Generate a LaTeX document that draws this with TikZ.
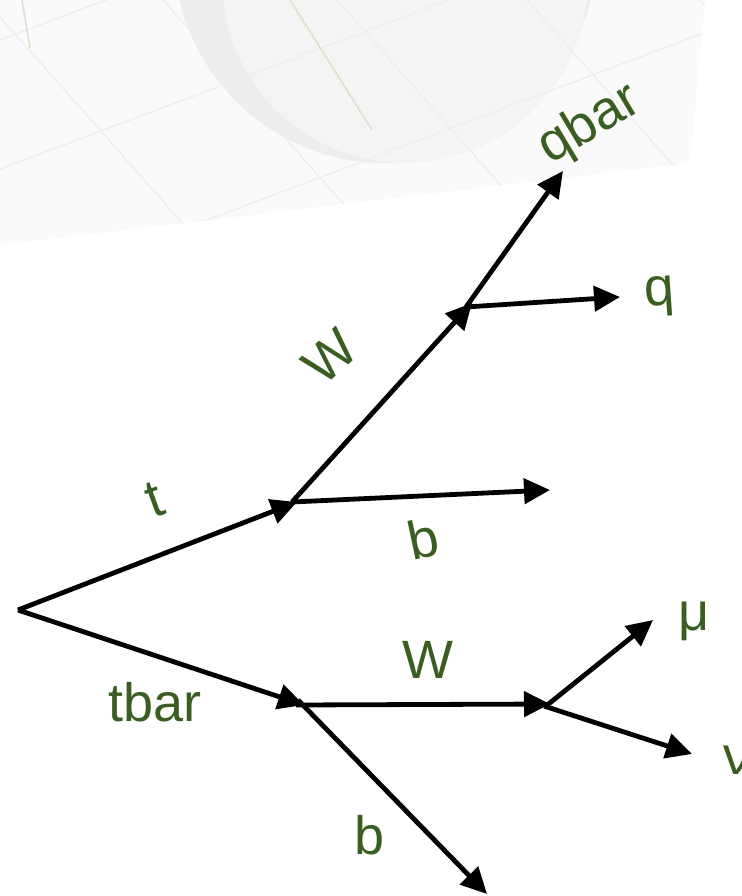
\documentclass[tikz,border=0pt]{standalone}
\usepackage{fontspec}
\setmainfont{Liberation Sans}
\usetikzlibrary{arrows.meta}
\definecolor{lblgreen}{HTML}{3A5E22}
\definecolor{bggrid}{HTML}{EDEDED}
\definecolor{bgshade}{HTML}{EDEDED}
\definecolor{bginner}{HTML}{F4F4F4}
\definecolor{bggreen}{HTML}{D2E5CA}
\begin{document}
\begin{tikzpicture}[x=1pt,y=-1pt,
  decay/.style={line width=4.8pt,-{Triangle[length=26pt,width=25pt]}},
  lbl/.style={text=lblgreen,font=\fontsize{54}{60}\selectfont,inner sep=0pt}]
\useasboundingbox (0,0) rectangle (741,896);

% faint backdrop in the top corner
\begin{scope}
\clip (0,0) -- (705,0) -- (690,163) -- (0,245) -- cycle;
\fill[black!2] (0,0) rectangle (741,260);
\fill[bgshade] (385,-48) circle (211);
\fill[bginner] (405,-20) circle (183);
\foreach \x in {-15,163,337,527,700}
  \draw[bggrid,line width=1.2pt] (\x,0) -- ++(230,260);
\foreach \y in {40,169,298,427}
  \draw[bggrid,line width=1.2pt] (0,\y) -- ++(741,-279);
\end{scope}
\draw[bggreen,line width=1.5pt] (22,0) -- (30,48);
\draw[bggreen,line width=1.5pt] (290,0) -- (372,130);

% vertices and end points
\coordinate (root) at (18,610);
\coordinate (tq) at (297,502);
\coordinate (wq) at (472,303);
\coordinate (qb) at (563,171);
\coordinate (q) at (620,297);
\coordinate (bq) at (550,490);
\coordinate (tl) at (304,705);
\coordinate (wl) at (550,704);
\coordinate (bl) at (487,894);
\coordinate (mu) at (653,620);
\coordinate (nu) at (692,754);

% top branch
\draw[decay] (root) -- (tq);
\draw[decay] (292,502) -- (wq);
\draw[decay] (292,502) -- (bq);
\draw[decay] (466,307) -- (qb);
\draw[decay] (466,307) -- (q);

% anti-top branch
\draw[decay] (root) -- (tl);
\draw[decay] (296,705) -- (wl);
\draw[decay] (298,700) -- (bl);
\draw[decay] (546,706) -- (mu);
\draw[decay] (544,706) -- (nu);

% particle names
\node[lbl,rotate=20] (tlab) at (155,500) {t};
\node[lbl,rotate=42] (wqlab) at (330,357) {W};
\node[lbl,rotate=12] (bqlab) at (423,538) {b};
\node[lbl,rotate=31] (qblab) at (590,125) {qbar};
\node[lbl,rotate=4] (qlab) at (660,297) {q};
\node[lbl] (tllab) at (155,702) {tbar};
\node[lbl] (wllab) at (428,660) {W};
\node[lbl] (bllab) at (370,835) {b};
\node[lbl] (mulab) at (694,621) {μ};
\node[lbl] (nulab) at (737,760) {ν};
\end{tikzpicture}
\end{document}
